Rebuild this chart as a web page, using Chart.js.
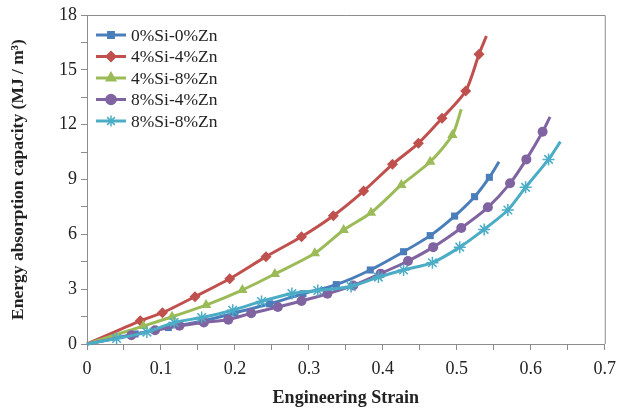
<!DOCTYPE html>
<html><head><meta charset="utf-8">
<script src="https://cdn.jsdelivr.net/npm/chart.js@4/dist/chart.umd.min.js"></script>
<style>html,body{margin:0;padding:0;background:#fff}#wrap{width:624px;height:413px}</style>
</head><body><div id="wrap"><canvas id="c" width="624" height="413"></canvas></div>
<script>
const seriesNames = ['0%Si-0%Zn','4%Si-4%Zn','4%Si-8%Zn','8%Si-4%Zn','8%Si-8%Zn'];
const xTicks = [0,0.1,0.2,0.3,0.4,0.5,0.6,0.7];
const yTicks = [0,3,6,9,12,15,18];

const s1x = [0,0.065,0.11,0.155,0.2,0.247,0.292,0.337,0.383,0.428,0.464,0.497,0.524,0.544,0.557];
const s1y = [0,0.55,0.9,1.25,1.7,2.2,2.75,3.25,4.05,5.05,5.93,7.0,8.06,9.12,9.97];

const s2x = [0,0.072,0.102,0.146,0.193,0.242,0.290,0.333,0.374,0.413,0.448,0.480,0.512,0.530,0.540];
const s2y = [0,1.27,1.71,2.59,3.57,4.78,5.87,7.02,8.37,9.83,10.98,12.35,13.84,15.85,16.85];

const s3x = [0,0.076,0.115,0.161,0.210,0.254,0.308,0.347,0.384,0.425,0.464,0.494,0.506];
const s3y = [0,0.98,1.49,2.13,2.95,3.83,4.96,6.24,7.18,8.70,9.97,11.43,12.84];

const s4x = [0,0.06,0.092,0.125,0.158,0.191,0.222,0.258,0.29,0.325,0.36,0.397,0.434,0.468,0.506,0.542,0.572,0.594,0.616,0.626];
const s4y = [0,0.48,0.75,1.0,1.18,1.33,1.68,2.02,2.35,2.75,3.2,3.85,4.54,5.3,6.35,7.48,8.79,10.1,11.61,12.43];

const s5x = [0,0.04,0.081,0.118,0.155,0.197,0.236,0.277,0.312,0.357,0.394,0.428,0.467,0.504,0.537,0.569,0.593,0.624,0.640];
const s5y = [0,0.3,0.65,1.18,1.45,1.85,2.33,2.76,2.93,3.15,3.66,4.05,4.45,5.3,6.27,7.33,8.57,10.1,11.07];

const colors = ['#4A7EBB','#C0504D','#9BBB59','#8064A2','#4BACC6'];
const styles = ['rect','rectRot','triangle','circle','star'];
const radii = [5,5.5,6,5,6];
const legendRadii = [4.5,5,5.5,5,5.5];

function pts(xs,ys){return xs.map((x,i)=>({x:x,y:ys[i]}));}
const allX=[s1x,s2x,s3x,s4x,s5x], allY=[s1y,s2y,s3y,s4y,s5y];

const datasets = seriesNames.map((n,i)=>({
  label:n,
  data:pts(allX[i],allY[i]),
  showLine:true,
  order:5-i,
  borderColor:colors[i],
  backgroundColor:colors[i],
  borderWidth:3,
  pointStyle:styles[i],
  pointRadius:allX[i].map((x,j)=>j===0||j===allX[i].length-1?0:radii[i]),
  pointBorderWidth: i===4?1.5:0,
  pointBorderColor: colors[i],
  pointBackgroundColor:colors[i],
  tension:0.25,
  clip:false
}));

const SERIF = '"Liberation Serif","Times New Roman",serif';

const frame = {
  id:'frame',
  afterDatasetsDraw(chart){
    const {ctx,chartArea:a}=chart;
    ctx.save();
    ctx.strokeStyle='#8c8c8c';ctx.lineWidth=1;
    ctx.beginPath();
    ctx.moveTo(a.left,a.top+0.5);ctx.lineTo(a.right+0.5,a.top+0.5);ctx.lineTo(a.right+0.5,a.bottom);
    ctx.stroke();
    ctx.restore();
  }
};

const legendInside = {
  id:'legendInside',
  afterDraw(chart){
    const ctx=chart.ctx;
    const x0=96,x1=126,tx=131,y0=35,dy=21.5;
    ctx.save();
    ctx.font='17.5px '+SERIF;
    ctx.textBaseline='middle';
    chart.data.datasets.forEach((d,i)=>{
      const y=y0+i*dy;
      ctx.strokeStyle=d.borderColor;ctx.lineWidth=3;
      ctx.beginPath();ctx.moveTo(x0,y);ctx.lineTo(x1,y);ctx.stroke();
      ctx.fillStyle=d.borderColor;
      ctx.lineWidth=1.5;
      Chart.helpers.drawPoint(ctx,{pointStyle:d.pointStyle,radius:legendRadii[i],borderWidth:d.pointBorderWidth||0.01,rotation:0},(x0+x1)/2,y);
      ctx.fillStyle='#222';
      ctx.fillText(d.label,tx,y+1);
    });
    ctx.restore();
  }
};

new Chart(document.getElementById('c'),{
  type:'scatter',
  data:{datasets:datasets},
  plugins:[frame,legendInside],
  options:{
    responsive:false,animation:false,
    layout:{padding:{top:15,right:18,left:0,bottom:0}},
    plugins:{legend:{display:false},tooltip:{enabled:false}},
    scales:{
      x:{type:'linear',min:0,max:0.7,
        afterBuildTicks(s){s.ticks=[];for(let i=0;i<=14;i++)s.ticks.push({value:i*0.05});},
        afterFit(s){s.height=69;},
        ticks:{autoSkip:false,maxRotation:0,padding:8,color:'#222',font:{family:SERIF,size:18},
          callback:(v,i)=>{if(i%2)return '';const k=xTicks[i/2];return k===0?'0':String(k);}},
        grid:{drawOnChartArea:false,drawTicks:true,tickLength:6,color:'#8c8c8c'},
        border:{color:'#8c8c8c',width:1},
        title:{display:true,text:'Engineering Strain',color:'#222',font:{family:SERIF,size:18,weight:'bold'},padding:{top:0}}
      },
      y:{type:'linear',min:0,max:18,
        afterBuildTicks(s){s.ticks=[];for(let i=0;i<=12;i++)s.ticks.push({value:i*1.5});},
        afterFit(s){s.width=87;},
        ticks:{autoSkip:false,padding:4,color:'#222',font:{family:SERIF,size:18},
          callback:(v,i)=>{if(i%2)return '';return String(yTicks[i/2]);}},
        grid:{drawOnChartArea:false,drawTicks:true,tickLength:6,color:'#8c8c8c'},
        border:{color:'#8c8c8c',width:1},
        title:{display:true,text:'Energy absorption capacity (MJ / m\u00B3)',color:'#222',font:{family:SERIF,size:17.5,weight:'bold'},padding:{top:8,bottom:4}}
      }
    }
  }
});
</script></body></html>
